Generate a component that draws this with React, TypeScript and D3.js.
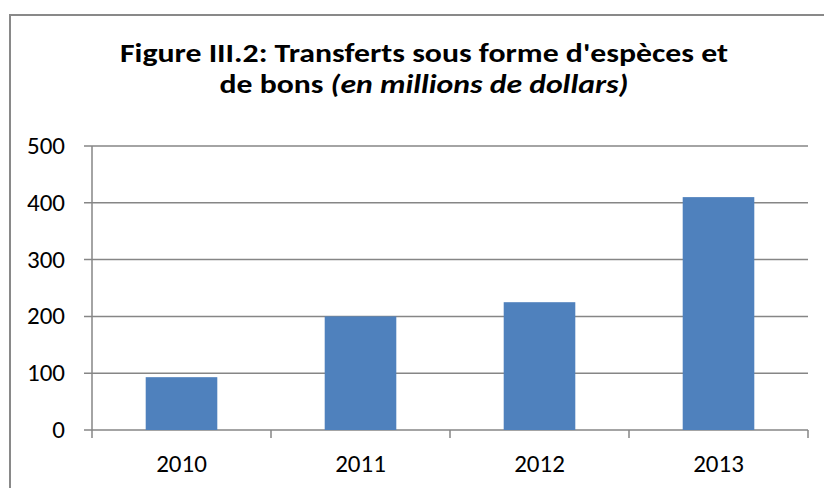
import React from "react";
import * as d3 from "d3";

const years = ["2010", "2011", "2012", "2013"];
const transfers = [93, 200, 225, 410];
const yTicks = [0, 100, 200, 300, 400, 500];

const W = 824;
const H = 488;
const font = "Carlito, Calibri, 'Liberation Sans', sans-serif";

export default function App() {
  const margin = { left: 92, right: 16, top: 146, bottom: 58 };
  const x = d3
    .scaleBand()
    .domain(years)
    .range([margin.left, W - margin.right])
    .paddingInner(0.6)
    .paddingOuter(0.3);
  const y = d3
    .scaleLinear()
    .domain([0, 500])
    .range([H - margin.bottom, margin.top]);

  const step = x.step();
  const x0 = margin.left;
  const x1 = W - margin.right;

  return (
    <svg
      width={W}
      height={H}
      style={{ position: "absolute", left: 0, top: 0, background: "#fff" }}
    >
      <rect x={10} y={15} width={W} height={H} fill="#fff" stroke="#898989" strokeWidth={2} />
      <text
        x={424}
        y={62}
        textAnchor="middle"
        fontFamily={font}
        fontWeight="bold"
        fontSize={26}
        fill="#000"
        textLength={608}
        lengthAdjust="spacingAndGlyphs"
      >
        Figure III.2: Transferts sous forme d'espèces et
      </text>
      <text
        x={424}
        y={93}
        textAnchor="middle"
        fontFamily={font}
        fontWeight="bold"
        fontSize={26}
        fill="#000"
        textLength={409}
        lengthAdjust="spacingAndGlyphs"
      >
        de bons <tspan fontStyle="italic">(en millions de dollars)</tspan>
      </text>
      {yTicks.map((t) => (
        <g key={t}>
          <line x1={x0 - 8} x2={x1} y1={y(t)} y2={y(t)} stroke="#868686" strokeWidth={1.5} />
          <text
            x={65}
            y={y(t) + 8}
            textAnchor="end"
            fontFamily={font}
            fontSize={25}
            fill="#000"
          >
            {t}
          </text>
        </g>
      ))}
      <line x1={x0} x2={x0} y1={y(500)} y2={y(0) + 8} stroke="#868686" strokeWidth={1.5} />
      {years.map((yr, i) => (
        <line
          key={"t" + yr}
          x1={x0 + step * (i + 1)}
          x2={x0 + step * (i + 1)}
          y1={y(0)}
          y2={y(0) + 8}
          stroke="#868686"
          strokeWidth={1.5}
        />
      ))}
      {years.map((yr, i) => (
        <rect
          key={yr}
          x={x(yr)}
          y={y(transfers[i])}
          width={x.bandwidth()}
          height={y(0) - y(transfers[i])}
          fill="#4F81BD"
        />
      ))}
      {years.map((yr) => (
        <text
          key={"l" + yr}
          x={(x(yr) as number) + x.bandwidth() / 2}
          y={472}
          textAnchor="middle"
          fontFamily={font}
          fontSize={25}
          fill="#000"
        >
          {yr}
        </text>
      ))}
    </svg>
  );
}
